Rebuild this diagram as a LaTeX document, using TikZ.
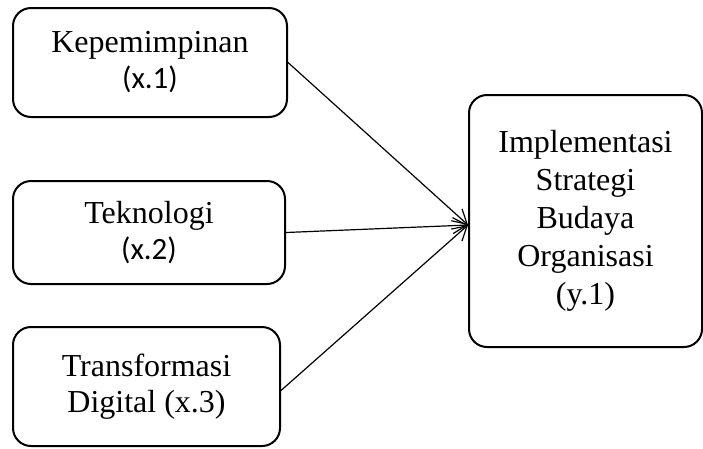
\documentclass[tikz,border=0pt]{standalone}
\usepackage{fontspec}
\setmainfont{Liberation Serif}
\newfontfamily\calibri{Carlito}
\usetikzlibrary{arrows.meta}

\begin{document}
\begin{tikzpicture}[x=1pt, y=-1pt, box/.style={draw,line width=2pt,rounded corners=18pt,align=center,font=\fontsize{32}{36}\selectfont}, >={Straight Barb[length=14pt,width=16pt]}]
\useasboundingbox (0,0) rectangle (703,448);
\node[box,minimum width=274pt,minimum height=109pt] (kp) at (150,62.5) {Kepemimpinan\\{\calibri\fontsize{31}{36}\selectfont (x.1)}};
\node[box,minimum width=272pt,minimum height=103pt] (tk) at (149,232.5) {Teknologi\\{\calibri\fontsize{31}{36}\selectfont (x.2)}};
\node[box,minimum width=267pt,minimum height=119pt] (td) at (146.5,386.5) {Transformasi\\Digital (x.3)};
\node[box,minimum width=233pt,minimum height=252pt,font=\fontsize{32}{38}\selectfont] (isb) at (585.5,221) {Implementasi\\Strategi\\Budaya\\Organisasi\\(y.1)};
\draw[->,line width=1.2pt] (kp.east) -- ([yshift=-4pt]isb.west);
\draw[->,line width=1.2pt] (tk.east) -- ([yshift=-4pt]isb.west);
\draw[->,line width=1.2pt] ([yshift=-4pt]td.east) -- ([yshift=-4pt]isb.west);
\end{tikzpicture}
\end{document}
